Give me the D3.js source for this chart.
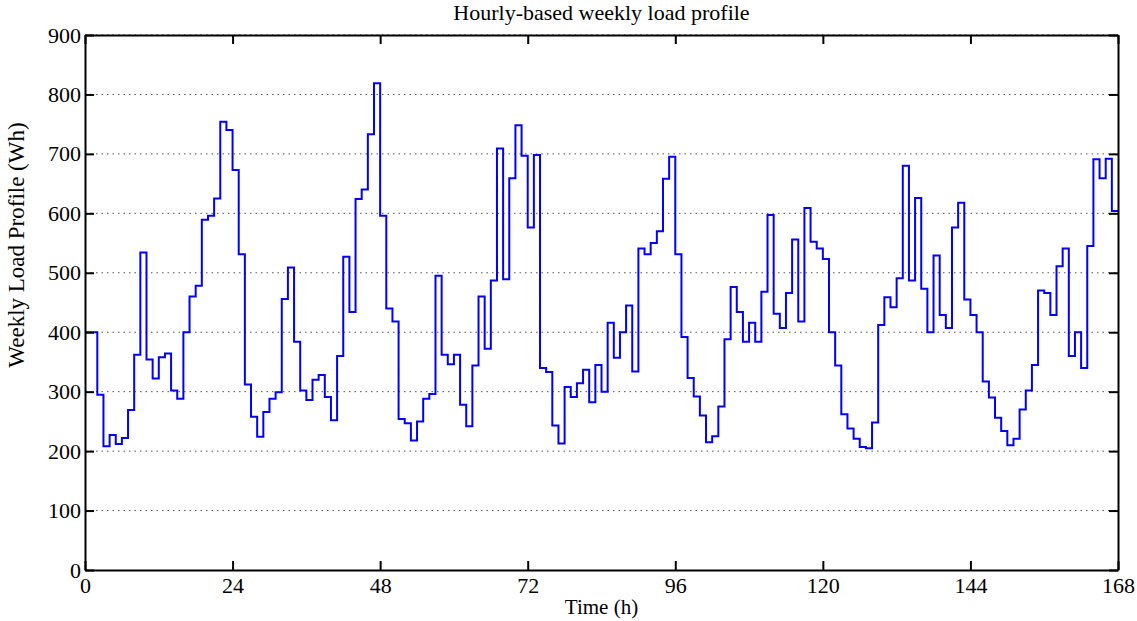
<!DOCTYPE html>
<html>
<head>
<meta charset="utf-8">
<script src="https://cdn.jsdelivr.net/npm/d3@7"></script>
<style>
  html, body { margin: 0; padding: 0; background: #fff; }
  svg { display: block; }
  text { font-family: "Liberation Serif", "Times New Roman", serif; fill: #000; }
</style>
</head>
<body>
<svg id="chart" width="1137" height="621"></svg>
<script>
// Hourly load over one week (Wh), one value per hour starting at hour 0
const hourlyLoad = [
  400, 400, 295, 208, 227, 212, 222, 269, 362, 534,
  354, 322, 358, 364, 302, 288, 400, 460, 478, 589,
  596, 625, 754, 740, 673, 531, 312, 258, 224, 266,
  288, 299, 456, 509, 384, 302, 286, 320, 328, 291,
  252, 360, 527, 434, 624, 640, 733, 819, 596, 440,
  418, 254, 247, 218, 250, 288, 296, 495, 362, 346,
  362, 278, 242, 344, 460, 372, 487, 709, 489, 659,
  748, 697, 576, 698, 340, 333, 243, 213, 308, 291,
  314, 337, 282, 345, 300, 416, 357, 400, 445, 334,
  541, 531, 550, 570, 658, 695, 531, 392, 323, 292,
  260, 215, 225, 275, 388, 476, 434, 384, 416, 384,
  468, 597, 431, 407, 466, 556, 418, 609, 552, 541,
  523, 400, 344, 262, 238, 221, 207, 205, 248, 412,
  459, 442, 491, 680, 487, 626, 473, 400, 529, 429,
  407, 576, 618, 455, 429, 400, 317, 290, 256, 234,
  210, 221, 270, 302, 345, 470, 466, 429, 511, 541,
  360, 400, 340, 545, 691, 659, 692, 604
];

const xTicks = [0, 24, 48, 72, 96, 120, 144, 168];
const yTicks = [0, 100, 200, 300, 400, 500, 600, 700, 800, 900];

const titleText = "Hourly-based weekly load profile";
const xLabel = "Time (h)";
const yLabel = "Weekly Load Profile (Wh)";

const plotLeft = 85, plotRight = 1118, plotTop = 35, plotBottom = 570;

const svg = d3.select("#chart");

const x = d3.scaleLinear().domain([0, 168]).range([plotLeft, plotRight]);
const y = d3.scaleLinear().domain([0, 900]).range([plotBottom, plotTop]);

// horizontal dotted grid
svg.append("g")
  .selectAll("line")
  .data(yTicks.slice(1))
  .join("line")
  .attr("x1", plotLeft).attr("x2", plotRight)
  .attr("y1", d => y(d)).attr("y2", d => y(d))
  .attr("stroke", "#555")
  .attr("stroke-width", 1)
  .attr("stroke-dasharray", "1.5,4");

// step series
const points = hourlyLoad.map((v, i) => [i, v]);
points.push([hourlyLoad.length, hourlyLoad[hourlyLoad.length - 1]]);

const line = d3.line()
  .x(d => x(d[0]))
  .y(d => y(d[1]))
  .curve(d3.curveStepAfter);

svg.append("path")
  .datum(points)
  .attr("fill", "none")
  .attr("stroke", "#0000ff")
  .attr("stroke-width", 2)
  .attr("d", line);

// axes: ticks point inward on all four sides
const tickLen = 9;
const fontSize = 22;

const bottomAxis = d3.axisBottom(x).tickValues(xTicks).tickSizeInner(-tickLen).tickSizeOuter(0).tickPadding(10);
const topAxis = d3.axisTop(x).tickValues(xTicks).tickSizeInner(-tickLen).tickSizeOuter(0).tickFormat("");
const leftAxis = d3.axisLeft(y).tickValues(yTicks).tickSizeInner(-tickLen).tickSizeOuter(0).tickPadding(4);
const rightAxis = d3.axisRight(y).tickValues(yTicks).tickSizeInner(-tickLen).tickSizeOuter(0).tickFormat("");

function styleAxis(g) {
  g.select(".domain").attr("stroke", "#000").attr("stroke-width", 2);
  g.selectAll(".tick line").attr("stroke", "#000").attr("stroke-width", 2);
  g.selectAll(".tick text")
    .attr("font-family", '"Liberation Serif", "Times New Roman", serif')
    .attr("font-size", fontSize)
    .attr("fill", "#000");
}

svg.append("g").attr("transform", `translate(0,${plotBottom})`).call(bottomAxis).call(styleAxis)
  .selectAll(".tick text").attr("dy", "0.6em");
svg.append("g").attr("transform", `translate(0,${plotTop})`).call(topAxis).call(styleAxis);
svg.append("g").attr("transform", `translate(${plotLeft},0)`).call(leftAxis).call(styleAxis);
svg.append("g").attr("transform", `translate(${plotRight},0)`).call(rightAxis).call(styleAxis);

// title and axis labels
svg.append("text")
  .attr("x", (plotLeft + plotRight) / 2)
  .attr("y", 20)
  .attr("text-anchor", "middle")
  .attr("font-size", 22)
  .text(titleText);

svg.append("text")
  .attr("x", (plotLeft + plotRight) / 2)
  .attr("y", 614)
  .attr("text-anchor", "middle")
  .attr("font-size", 21)
  .text(xLabel);

svg.append("text")
  .attr("transform", "translate(24,245) rotate(-90)")
  .attr("text-anchor", "middle")
  .attr("font-size", 23)
  .text(yLabel);
</script>
</body>
</html>
